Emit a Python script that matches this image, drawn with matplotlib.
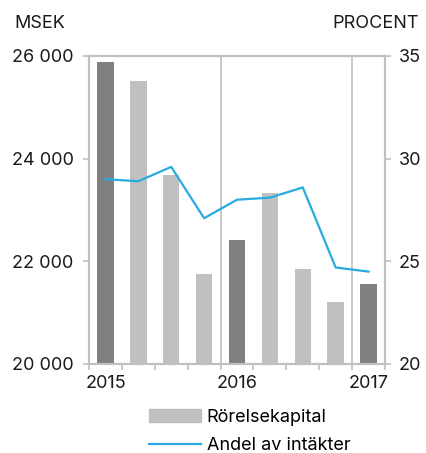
import numpy as np
import matplotlib.pyplot as plt
from matplotlib.ticker import FuncFormatter, FixedLocator

plt.rcParams['font.family'] = ['Inter', 'DejaVu Sans']

# quarterly data, 2015 Q4 .. 2017 Q4
kapital = [25880, 25520, 23680, 21760, 22420, 23330, 21860, 21210, 21550]
andel = [29.0, 28.9, 29.6, 27.1, 28.0, 28.1, 28.6, 24.7, 24.5]
year_end = [True, False, False, False, True, False, False, False, True]
years = ['2015', '2016', '2017']
year_pos = [0, 4, 8]

dark = '#808080'
light = '#c0c0c0'
blue = '#29abe2'
grid = '#c0c0c0'
txt = '#1a1a1a'
fs = 13

x = np.arange(len(kapital))
colors = [dark if y else light for y in year_end]

fig = plt.figure(figsize=(4.26, 4.53), dpi=100)
ax = fig.add_axes([89/426, 1-364/453, (385-89)/426, (364-56)/453])
ax2 = ax.twinx()

ax.bar(x, kapital, width=0.5, color=colors, zorder=2, label='Rörelsekapital')
ax.set_ylim(20000, 26000)
ax.set_yticks([20000, 22000, 24000, 26000])
ax.yaxis.set_major_formatter(FuncFormatter(lambda v, p: f'{int(v):,}'.replace(',', ' ')))
ax.set_xlim(-0.5, 8.5)
ax.set_xticks(year_pos)
ax.set_xticklabels(years)
ax.xaxis.set_minor_locator(FixedLocator(np.arange(-0.5, 9, 1)))
ax.tick_params(axis='x', which='major', length=0, pad=8, labelsize=fs, colors=txt)
ax.tick_params(axis='x', which='minor', length=4, width=1.2, color=grid)
ax.tick_params(axis='y', length=4, width=1.2, color=grid, pad=7, labelsize=fs, labelcolor=txt)
for xv in [3.5, 7.5]:
    ax.axvline(xv, color=grid, lw=1.2, zorder=1)

ax2.plot(x, andel, color=blue, lw=1.6, zorder=3, label='Andel av intäkter')
ax2.set_ylim(20, 35)
ax2.set_yticks([20, 25, 30, 35])
ax2.tick_params(axis='y', length=4, width=1.2, color=grid, pad=6, labelsize=fs, labelcolor=txt)

for a in (ax, ax2):
    for s in a.spines.values():
        s.set_color(grid)
        s.set_linewidth(1.5)

fig.text(14/426, 1-23/453, 'MSEK', fontsize=fs, va='center', ha='left', color=txt)
fig.text(419/426, 1-23/453, 'PROCENT', fontsize=fs, va='center', ha='right', color=txt)

h1, l1 = ax.get_legend_handles_labels()
h2, l2 = ax2.get_legend_handles_labels()
leg = fig.legend([plt.Rectangle((0, 0), 1, 1, color=light), h2[0]], [l1[0], l2[0]],
                 loc='upper left', bbox_to_anchor=(149/426, 1-409/453), frameon=False,
                 fontsize=fs, handlelength=2.9, handletextpad=0.3, labelspacing=0.6,
                 borderpad=0, borderaxespad=0)

fig.savefig('out.png', dpi=100)
